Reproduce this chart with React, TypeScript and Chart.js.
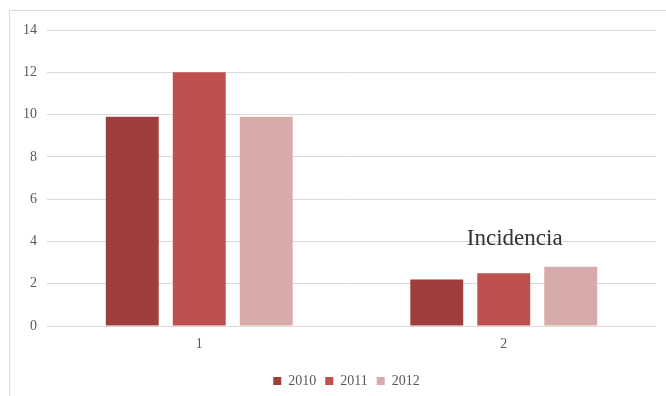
import React, { useEffect, useRef } from "react";
import { Chart, registerables } from "chart.js";

Chart.register(...registerables);

const categories = ["1", "2"];
const series2010 = [9.9, 2.2];
const series2011 = [12, 2.5];
const series2012 = [9.9, 2.8];
const seriesLabels = ["2010", "2011", "2012"];
const seriesColors = ["#9E3F3E", "#C0504D", "#D9AAAA"];
const chartTitle = "Incidencia";

const FONT = "'Liberation Serif', 'Times New Roman', serif";

// Draws the floating title text inside the plot area, anchored to the scales.
const floatingTitle = {
  id: "floatingTitle",
  afterDraw(chart: any) {
    const { ctx, scales } = chart;
    const x = scales.x.getPixelForValue(1) + 11;
    const y = scales.y.getPixelForValue(4) + 4;
    ctx.save();
    ctx.font = `23px ${FONT}`;
    ctx.fillStyle = "#333333";
    ctx.textAlign = "center";
    ctx.textBaseline = "alphabetic";
    ctx.fillText(chartTitle, x, y);
    ctx.restore();
  },
};

// Nudges the legend so it sits slightly left of the plot-area centre, a touch lower.
const placeLegend = {
  id: "placeLegend",
  afterLayout(chart: any) {
    const legend = chart.legend;
    if (!legend) return;
    const { left, right } = chart.chartArea;
    const shift = (left + right) / 2 - (legend.left + legend.right) / 2 - 5;
    legend.left += shift;
    legend.right += shift;
    legend.top += 2;
    legend.bottom += 2;
  },
};

export default function App() {
  const canvasRef = useRef<HTMLCanvasElement | null>(null);

  useEffect(() => {
    if (!canvasRef.current) return;
    const values = [series2010, series2011, series2012];
    const chart = new Chart(canvasRef.current, {
      type: "bar",
      data: {
        labels: categories,
        datasets: seriesLabels.map((label, i) => ({
          label,
          data: values[i],
          backgroundColor: seriesColors[i],
          borderWidth: 0,
          categoryPercentage: 0.66,
          barPercentage: 0.79,
        })),
      },
      options: {
        animation: false,
        responsive: false,
        maintainAspectRatio: false,
        layout: { padding: { left: 18, right: 10, top: 30, bottom: 0 } },
        scales: {
          x: {
            grid: { display: false, drawTicks: false },
            border: { display: false },
            ticks: {
              color: "#595959",
              font: { family: FONT, size: 14 },
              padding: 10,
            },
            afterFit(scale: any) {
              scale.height = 37;
            },
          },
          y: {
            min: 0,
            max: 14,
            ticks: {
              stepSize: 2,
              color: "#595959",
              font: { family: FONT, size: 14 },
              padding: 10,
            },
            grid: { color: "#D9D9D9", lineWidth: 1, drawTicks: false },
            border: { display: false },
            afterFit(scale: any) {
              scale.width = 29;
            },
          },
        },
        plugins: {
          legend: {
            position: "bottom",
            labels: {
              boxWidth: 8,
              boxHeight: 8,
              padding: 9,
              color: "#595959",
              font: { family: FONT, size: 14 },
            },
          },
          tooltip: { enabled: false },
        },
      },
      plugins: [floatingTitle, placeLegend],
    });
    return () => chart.destroy();
  }, []);

  return (
    <div
      style={{
        position: "fixed",
        left: 0,
        top: 0,
        width: 666,
        height: 396,
        overflow: "hidden",
        background: "#ffffff",
      }}
    >
      <div
        style={{
          position: "absolute",
          left: 9,
          top: 10,
          width: 700,
          height: 420,
          border: "1px solid #D9D9D9",
        }}
      />
      <canvas
        ref={canvasRef}
        width={666}
        height={396}
        style={{ position: "absolute", left: 0, top: 0 }}
      />
    </div>
  );
}
